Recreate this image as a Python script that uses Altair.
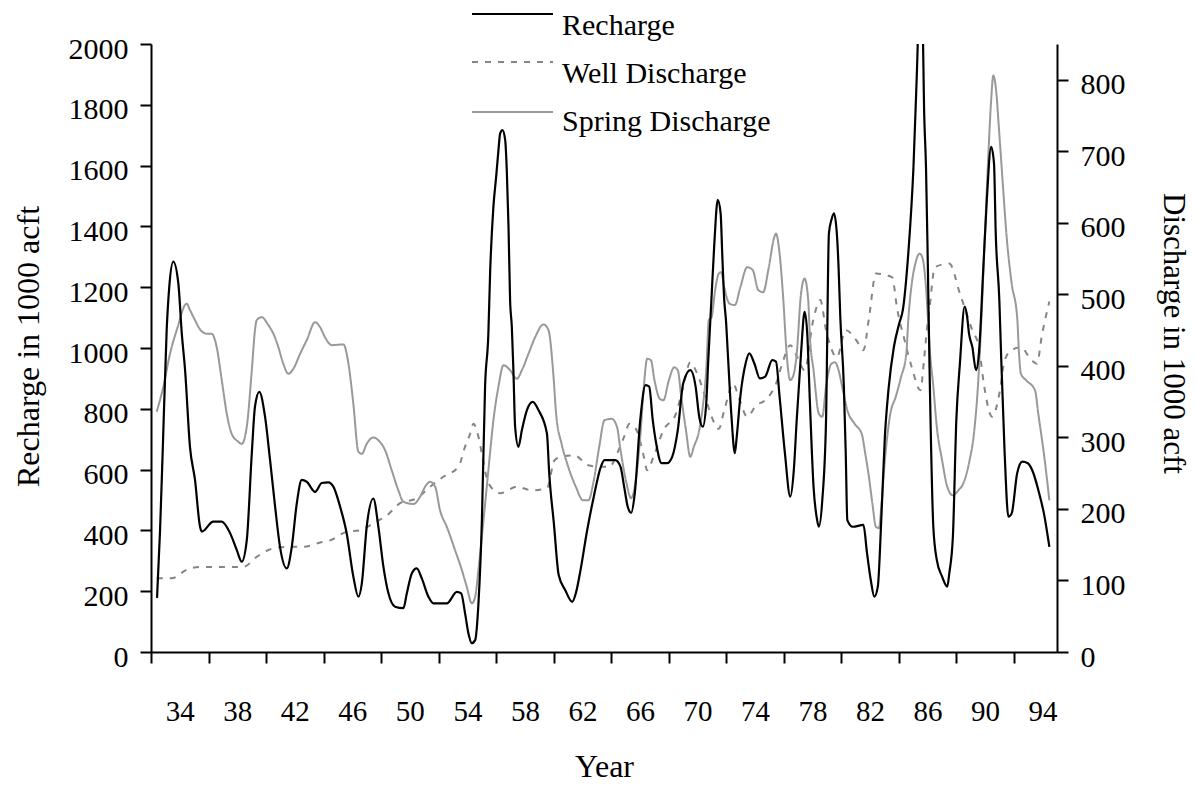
import altair as alt
import pandas as pd

FONT = "Liberation Serif"

# ---- data ----
rech_year = [1932.42, 1932.63, 1932.81, 1933.09, 1933.27, 1933.55, 1933.90, 1934.14, 1934.37, 1934.71,
             1935.06, 1935.41, 1935.53, 1936.33, 1936.92, 1937.50, 1937.96, 1938.31, 1938.66, 1939.01,
             1939.23, 1939.53, 1939.93, 1940.28, 1940.63, 1940.97, 1941.44, 1941.79, 1942.14, 1942.48,
             1942.83, 1943.41, 1943.87, 1944.33, 1944.68, 1945.15, 1945.61, 1946.07, 1946.42, 1946.66,
             1947.00, 1947.46, 1947.81, 1948.16, 1948.51, 1948.97, 1949.55, 1949.79, 1950.14, 1950.48,
             1950.83, 1951.29, 1951.64, 1952.57, 1953.27, 1953.57, 1953.84, 1954.07, 1954.31, 1954.54,
             1954.77, 1955.01, 1955.23, 1955.46, 1955.58, 1955.81, 1956.00, 1956.16, 1956.28, 1956.44,
             1956.63, 1956.74, 1956.86, 1956.97, 1957.09, 1957.20, 1957.32, 1957.55, 1957.79, 1958.14,
             1958.55, 1958.94, 1959.53, 1959.69, 1960.02, 1960.35, 1960.80, 1961.29, 1961.54, 1961.91,
             1962.29, 1962.79, 1963.28, 1963.53, 1964.28, 1964.65, 1964.90, 1965.15, 1965.39, 1965.64,
             1966.02, 1966.39, 1966.64, 1966.89, 1967.13, 1967.51, 1967.88, 1968.24, 1968.63, 1969.01,
             1969.50, 1969.87, 1970.12, 1970.37, 1970.61, 1970.75, 1970.96, 1971.16, 1971.41, 1971.61,
             1971.72, 1971.86, 1971.98, 1972.11, 1972.35, 1972.60, 1972.73, 1972.98, 1973.35, 1973.60,
             1973.95, 1974.34, 1974.71, 1975.20, 1975.46, 1975.71, 1976.08, 1976.45, 1976.70, 1976.90,
             1977.20, 1977.45, 1977.63, 1977.82, 1978.07, 1978.32, 1978.44, 1978.68, 1978.94, 1979.14,
             1979.31, 1979.49, 1979.69, 1979.81, 1979.93, 1980.18, 1980.31, 1980.42, 1980.80, 1981.54,
             1981.79, 1982.05, 1982.30, 1982.54, 1982.78, 1983.03, 1983.28, 1983.66, 1984.03, 1984.28,
             1984.66, 1985.02, 1985.27, 1985.40, 1985.63, 1985.77, 1985.89, 1986.02, 1986.14, 1986.40,
             1986.64, 1987.01, 1987.37, 1987.51, 1987.76, 1988.00, 1988.25, 1988.58, 1988.75, 1988.88,
             1989.11, 1989.37, 1989.57, 1989.88, 1990.12, 1990.42, 1990.62, 1990.74, 1990.99, 1991.11,
             1991.36, 1991.62, 1991.85, 1992.23, 1992.59, 1992.97, 1993.36, 1993.70, 1994.09, 1994.47]
rech_val = [178, 401, 655, 1059, 1201, 1284, 1213, 1048, 927, 675,
            566, 412, 396, 429, 429, 391, 336, 297, 368, 654,
            807, 856, 774, 631, 478, 346, 275, 346, 490, 566,
            560, 527, 556, 558, 544, 478, 390, 248, 182, 226,
            412, 505, 412, 281, 193, 149, 144, 193, 259, 275,
            242, 182, 160, 160, 198, 193, 127, 62, 29, 39,
            160, 434, 873, 1048, 1246, 1465, 1563, 1651, 1706, 1717,
            1684, 1585, 1399, 1158, 1070, 927, 741, 675, 730, 796,
            823, 796, 719, 588, 420, 253, 204, 165, 193, 281,
            390, 511, 609, 631, 631, 609, 544, 478, 458, 522,
            763, 878, 873, 763, 686, 621, 621, 642, 730, 884,
            927, 873, 774, 741, 818, 960, 1150, 1333, 1487, 1443,
            1312, 1158, 1092, 982, 785, 654, 708, 840, 950, 982,
            950, 900, 906, 960, 955, 840, 654, 511, 599, 763,
            982, 1119, 1050, 818, 544, 434, 412, 500, 763, 1377,
            1421, 1443, 1377, 1267, 1103, 873, 654, 434, 412, 418,
            325, 237, 182, 215, 434, 708, 862, 1004, 1081, 1125,
            1312, 1596, 1925, 2100, 2100, 1761, 1596, 1267, 927, 412,
            303, 248, 215, 259, 379, 763, 950, 1136, 1103, 1048,
            1004, 927, 982, 1267, 1487, 1662, 1607, 1377, 1158, 982,
            654, 445, 456, 588, 626, 621, 588, 533, 456, 346]

spring_year = [1932.40, 1932.86, 1933.32, 1933.79, 1934.48, 1934.71, 1935.06, 1935.41, 1935.87, 1936.22,
               1936.57, 1936.92, 1937.27, 1937.61, 1938.07, 1938.31, 1938.66, 1939.01, 1939.23, 1939.35,
               1939.70, 1940.16, 1940.51, 1940.86, 1941.20, 1941.55, 1941.90, 1942.37, 1942.83, 1943.41,
               1943.76, 1944.10, 1944.57, 1945.38, 1945.73, 1946.07, 1946.42, 1946.66, 1947.00, 1947.46,
               1947.81, 1948.28, 1948.74, 1949.20, 1949.55, 1950.25, 1950.71, 1951.06, 1951.41, 1951.76,
               1952.10, 1952.57, 1953.15, 1953.61, 1953.96, 1954.31, 1954.54, 1954.77, 1955.12, 1955.46,
               1955.81, 1956.16, 1956.51, 1956.97, 1957.44, 1957.79, 1958.25, 1958.71, 1959.29, 1959.64,
               1959.97, 1960.17, 1960.55, 1960.93, 1961.54, 1962.05, 1962.41, 1962.79, 1963.17, 1963.53,
               1964.03, 1964.40, 1964.65, 1965.02, 1965.39, 1965.64, 1966.02, 1966.27, 1966.50, 1966.76,
               1967.01, 1967.38, 1967.63, 1968.01, 1968.38, 1968.63, 1968.87, 1969.20, 1969.50, 1969.75,
               1970.12, 1970.37, 1970.61, 1970.79, 1970.98, 1971.23, 1971.48, 1971.65, 1971.86, 1972.23,
               1972.60, 1972.98, 1973.46, 1973.84, 1974.23, 1974.57, 1974.96, 1975.34, 1975.46, 1975.71,
               1975.97, 1976.20, 1976.45, 1976.70, 1976.90, 1977.20, 1977.45, 1977.70, 1977.82, 1978.07,
               1978.44, 1978.68, 1978.94, 1979.31, 1979.56, 1979.81, 1980.06, 1980.42, 1980.93, 1981.42,
               1981.67, 1981.92, 1982.16, 1982.41, 1982.62, 1982.78, 1983.03, 1983.41, 1983.79, 1984.15,
               1984.52, 1984.66, 1984.90, 1985.15, 1985.45, 1985.63, 1985.89, 1986.02, 1986.14, 1986.40,
               1986.64, 1987.01, 1987.37, 1987.76, 1988.14, 1988.49, 1988.88, 1989.25, 1989.50, 1989.74,
               1989.99, 1990.24, 1990.42, 1990.57, 1990.74, 1990.99, 1991.23, 1991.48, 1991.85, 1992.23,
               1992.36, 1992.49, 1992.85, 1993.47, 1993.70, 1994.09, 1994.47]
spring_val = [336, 371, 417, 450, 487, 478, 464, 451, 445, 445,
              426, 380, 333, 305, 294, 291, 315, 394, 450, 464,
              468, 457, 445, 426, 403, 389, 396, 417, 436, 461,
              454, 440, 429, 430, 403, 347, 280, 277, 291, 300,
              296, 282, 254, 226, 210, 207, 217, 231, 238, 231,
              198, 175, 142, 115, 91, 68, 77, 115, 184, 254,
              324, 371, 401, 394, 382, 394, 417, 440, 458, 450,
              390, 333, 291, 264, 231, 212, 212, 240, 287, 324,
              326, 315, 282, 240, 215, 231, 301, 371, 410, 408,
              380, 354, 352, 380, 398, 394, 357, 310, 273, 287,
              310, 343, 394, 464, 468, 506, 529, 531, 510, 487,
              485, 510, 538, 534, 506, 503, 538, 580, 585, 557,
              492, 417, 380, 389, 417, 501, 522, 492, 440, 394,
              333, 329, 371, 403, 405, 394, 371, 338, 319, 305,
              277, 245, 208, 175, 173, 203, 268, 333, 357, 384,
              417, 464, 515, 543, 557, 552, 510, 468, 426, 371,
              315, 268, 231, 219, 226, 236, 264, 310, 371, 464,
              585, 701, 771, 806, 790, 724, 655, 585, 515, 468,
              417, 389, 380, 366, 333, 277, 212]

well_year = [1932.40, 1933.44, 1934.48, 1935.41, 1938.42, 1939.35, 1940.51, 1941.44, 1942.59, 1943.76,
             1944.45, 1945.61, 1946.54, 1947.46, 1948.40, 1949.32, 1950.48, 1951.41, 1952.33, 1953.38,
             1953.84, 1954.19, 1954.42, 1954.77, 1955.01, 1955.46, 1956.28, 1957.44, 1958.48, 1959.53,
             1960.06, 1960.55, 1961.43, 1962.41, 1963.17, 1963.90, 1964.40, 1964.90, 1965.27, 1965.77,
             1966.27, 1966.50, 1967.01, 1967.63, 1968.50, 1969.01, 1969.50, 1969.98, 1970.61, 1970.98,
             1971.48, 1971.86, 1972.49, 1972.85, 1973.46, 1974.09, 1974.71, 1975.46, 1975.97, 1976.45,
             1976.94, 1977.45, 1978.05, 1978.54, 1978.94, 1979.19, 1979.69, 1980.31, 1981.04, 1981.54,
             1981.92, 1982.41, 1983.53, 1983.90, 1984.40, 1984.90, 1985.50, 1985.77, 1986.02, 1986.14,
             1986.51, 1987.51, 1988.25, 1989.11, 1989.57, 1989.94, 1990.49, 1990.99, 1991.36, 1991.85,
             1992.49, 1993.22, 1993.60, 1993.97, 1994.47]
well_val = [103, 103, 115, 119, 119, 133, 145, 147, 147, 153,
            156, 168, 170, 180, 191, 208, 215, 231, 245, 259,
            287, 305, 319, 301, 277, 236, 222, 231, 226, 229,
            268, 273, 275, 261, 259, 259, 277, 301, 319, 310,
            273, 254, 277, 310, 333, 371, 405, 389, 352, 329,
            312, 338, 375, 357, 329, 345, 352, 375, 408, 429,
            412, 394, 464, 492, 450, 431, 412, 450, 436, 422,
            466, 529, 524, 478, 436, 398, 366, 412, 464, 482,
            538, 543, 501, 450, 426, 371, 329, 361, 408, 422,
            426, 408, 403, 445, 490]

x_label_years = list(range(1934, 1995, 4))
left_ticks = list(range(0, 2001, 200))
right_ticks = list(range(0, 801, 100))
series_names = ["Recharge", "Well Discharge", "Spring Discharge"]

# ---- styling ----
series_colors = ["#000000", "#858585", "#999999"]
series_dash = [[1, 0], [6, 7], [1, 0]]
leg_line_y = [-30, 18, 68]
leg_text_y = [-9, 39, 87]

rech_df = pd.DataFrame({"year": rech_year, "value": rech_val})
dis_df = pd.concat([
    pd.DataFrame({"year": well_year, "value": well_val, "series": series_names[1]}),
    pd.DataFrame({"year": spring_year, "value": spring_val, "series": series_names[2]}),
], ignore_index=True)

x_axis = alt.Axis(values=x_label_years, labelExpr="substring(toString(datum.value), 2, 4)",
                  tickOffset=-28.75, labelOffset=28.75, tickSize=11, labelPadding=34,
                  labelFontSize=29, labelFlush=False, labelOverlap=False, grid=False,
                  title="Year", titleX=453, titleY=124, titleBaseline="alphabetic",
                  titleFontSize=32)

x_scale = alt.Scale(domain=[1932, 1995], nice=False, zero=False)

recharge = alt.Chart(rech_df).mark_line(
    color="black", strokeWidth=2.2, interpolate="monotone", clip=True
).encode(
    x=alt.X("year:Q", scale=x_scale, axis=x_axis),
    y=alt.Y("value:Q", scale=alt.Scale(domain=[0, 2000], nice=False),
            axis=alt.Axis(orient="left", values=left_ticks, format="d", tickSize=11, labelPadding=12,
                          labelOffset=5, grid=False, title="Recharge in 1000 acft",
                          titleX=-123, titleY=302, titleAngle=270, titleBaseline="middle",
                          titleAlign="center", titleFontSize=32)),
)

discharge = alt.Chart(dis_df).mark_line(
    strokeWidth=2, interpolate="monotone", clip=True
).encode(
    x=alt.X("year:Q", scale=x_scale),
    y=alt.Y("value:Q", scale=alt.Scale(domain=[0, 850], nice=False),
            axis=alt.Axis(orient="right", values=right_ticks, format="d", tickSize=11, labelPadding=12,
                          labelOffset=5, grid=False, title="Discharge in 1000 acft",
                          titleX=115, titleY=289, titleAngle=90, titleBaseline="middle",
                          titleAlign="center", titleFontSize=31)),
    color=alt.Color("series:N", scale=alt.Scale(domain=series_names[1:], range=series_colors[1:]),
                    legend=None),
    strokeDash=alt.StrokeDash("series:N", scale=alt.Scale(domain=series_names[1:], range=series_dash[1:]),
                              legend=None),
)

legend_layers = []
for i, name in enumerate(series_names):
    d = pd.DataFrame({"label": [name]})
    legend_layers.append(
        alt.Chart(d).mark_rule(color=series_colors[i], strokeWidth=2, strokeDash=series_dash[i]).encode(
            x=alt.value(321), x2=alt.value(402), y=alt.value(leg_line_y[i]))
    )
    legend_layers.append(
        alt.Chart(d).mark_text(align="left", baseline="alphabetic", font=FONT, fontSize=30,
                               color="black").encode(
            x=alt.value(411), y=alt.value(leg_text_y[i]), text="label:N")
    )

chart = alt.layer(discharge, recharge, *legend_layers).resolve_scale(
    y="independent"
).properties(
    width=906, height=608,
    autosize=alt.AutoSizeParams(type="none"),
    padding={"left": 143, "top": 36, "right": 133, "bottom": 132},
).configure_view(strokeWidth=0).configure_axis(
    labelFont=FONT, titleFont=FONT, labelFontSize=30, titleFontSize=31,
    labelColor="black", titleColor="black", domainColor="black", tickColor="black",
    domainWidth=2, tickWidth=2, titleFontWeight="normal",
)

chart.save("out.html", embed_options={"renderer": "svg", "actions": False})
